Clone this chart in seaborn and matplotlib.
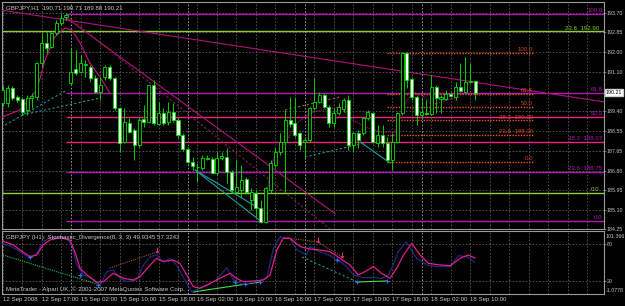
import numpy as np
import pandas as pd
import matplotlib
matplotlib.use("Agg")
import matplotlib.pyplot as plt
import matplotlib.transforms as mtrans
import seaborn as sns

# ---------------- data ----------------
opens = [189.76,189.76,190.42,190.03,189.94,189.46,189.98,190.03,191.51,192.39,
         192.21,192.83,193.26,193.53,190.64,191.25,191.12,191.43,191.34,190.86,
         190.24,190.90,191.34,190.86,189.54,188.06,188.89,188.58,187.93,189.06,
         188.93,190.55,188.84,189.33,188.93,189.37,189.02,188.36,187.75,187.18,
         186.96,186.92,187.31,187.31,186.70,187.36,187.40,186.75,185.87,185.96,
         186.44,185.52,185.83,185.17,184.56,185.96,187.05,187.62,188.06,189.02,
         188.89,188.45,188.06,188.15,189.54,189.81,190.11,189.59,188.89,189.33,
         189.50,189.89,187.93,188.45,188.45,189.11,189.33,188.01,188.36,188.01,
         187.27,188.06,189.33,191.95,190.81,190.03,189.24,189.33,189.28,190.46,
         189.94,189.94,190.16,190.03,190.46,190.24,190.68,190.71]
highs = [190.51,190.55,190.51,190.11,190.03,190.11,190.20,191.56,192.87,192.87,
         192.87,193.39,193.70,193.70,192.17,192.08,191.86,191.64,191.43,190.99,
         190.90,191.43,191.43,190.90,189.59,189.54,189.11,188.67,189.15,189.68,
         190.55,190.77,189.81,189.54,189.81,189.76,189.11,188.45,187.84,187.40,
         187.14,187.49,187.49,187.40,187.62,187.62,187.80,186.83,187.27,187.05,
         186.53,186.05,185.96,185.52,186.09,187.27,187.84,188.45,189.46,190.03,
         190.03,188.49,188.28,189.59,190.86,190.24,190.20,189.68,189.54,189.76,
         189.98,190.11,188.49,188.58,189.15,189.46,189.37,188.80,188.80,188.28,
         188.45,189.37,191.99,191.99,190.90,190.11,190.03,189.89,190.99,190.55,
         190.11,190.33,190.24,190.68,191.51,191.78,191.51,190.71]
lows = [189.63,189.59,189.89,189.81,189.24,189.24,189.54,189.89,191.34,191.95,
        192.17,192.74,193.18,193.39,190.55,190.99,191.08,190.90,190.68,190.20,
        189.89,190.77,190.77,189.46,187.62,188.01,188.45,187.27,187.84,188.71,
        188.89,188.80,188.80,188.80,188.80,188.93,188.23,187.66,187.14,186.83,
        186.31,186.83,187.27,186.70,186.61,187.27,186.26,185.83,185.83,185.65,
        185.83,185.08,184.78,184.51,184.51,185.83,186.96,187.49,185.87,188.71,
        188.28,187.71,187.40,188.06,189.46,189.76,189.54,188.71,188.71,189.24,
        189.37,187.71,187.62,187.80,188.36,189.02,188.01,187.84,187.84,187.18,
        186.83,188.01,189.24,190.42,189.89,188.80,189.15,189.24,189.24,189.33,
        189.33,189.89,190.03,189.89,190.24,190.24,190.64,189.88]
closes = [190.33,190.42,189.98,189.89,189.37,189.98,190.07,191.51,192.39,192.17,
          192.83,193.26,193.48,193.61,191.12,191.08,191.51,191.45,190.86,190.24,
          190.55,191.34,190.86,189.54,188.01,188.93,188.49,187.93,189.02,188.93,
          190.55,188.89,189.33,188.89,189.37,189.02,188.36,187.75,187.18,187.01,
          186.98,187.36,187.36,186.70,187.36,187.45,186.75,185.96,186.09,186.40,
          185.87,185.87,185.17,184.56,186.05,187.14,187.62,188.06,189.02,188.84,
          188.36,187.93,188.15,189.54,189.81,190.11,189.59,188.89,189.33,189.59,
          189.89,187.93,188.45,188.15,189.11,189.37,188.06,188.36,188.01,187.27,
          188.06,189.33,191.95,190.77,190.03,189.24,189.37,189.28,190.46,189.98,
          190.03,190.16,190.07,190.46,190.29,190.68,190.71,190.21]

time_labels = ["12 Sep 2008", "12 Sep 17:00", "15 Sep 02:00", "15 Sep 10:00", "15 Sep 18:00",
               "16 Sep 02:00", "16 Sep 10:00", "16 Sep 18:00", "17 Sep 02:00", "17 Sep 10:00",
               "17 Sep 18:00", "18 Sep 02:00", "18 Sep 10:00"]
day_separators = [14, 38, 62, 86]

price_ticks = [193.70, 192.85, 192.00, 191.10, 189.40, 188.55, 187.65, 186.80, 185.95, 185.10, 184.25]
price_tick_labels = ["193.70", "192.85", "192.00", "191.10", "189.40", "188.55", "187.65",
                     "186.80", "185.95", "185.10", "184.25"]
last_price = 190.21

# Fibonacci set 1 (magenta / pink)
fib1_levels = [193.66, 190.20, 189.15, 188.07, 186.75, 184.60]
fib1_names = ["100.0", "61.8", "50.0", "38.2  188.07", "23.6  186.75", "0.0"]
fib1_colors = ["#B418B4", "#B418B4", "#F0207E", "#F0207E", "#B418B4", "#B418B4"]
fib1_start = 13
# Fibonacci set 2 (green)
fib2_levels = [192.90, 185.83]
fib2_names = ["23.6  192.90", "0.0"]
# Fibonacci set 3 (orange, short)
fib3_levels = [191.95, 190.15, 189.58, 189.00, 188.36, 187.18]
fib3_names = ["100.0", "61.8", "50.0", "38.2  189.00", "23.6  188.36", "0.0"]
fib3_span = [78.9, 108.9]

# trend lines (bar, price)
trend_solid = [([-0.14, 123.47], [193.82, 189.81]),
               ([12.8, 68.3], [193.53, 184.91])]
trend_dashed = [([13.8, 67.2], [193.48, 184.25])]
teal_dashed = [([0.5, 13.2], [188.80, 190.33]),
               ([4.0, 20.0], [189.24, 189.98]),
               ([62.1, 74.4], [187.40, 188.01])]
teal_solid = [([39.5, 53.2], [186.83, 184.56]),
              ([39.5, 53.2], [186.83, 185.08]),
              ([73.4, 79.5], [188.06, 187.14])]
brown_dashed = [([58.0, 69.3], [189.46, 190.03])]
curve_left_x = [-0.5, 3.55, 7.0, 8.7, 10.7, 12.8, 14.2, 15.9, 17.9, 20.0, 22.0]
curve_left_y = [189.11, 189.46, 190.33, 191.64, 192.65, 193.04, 192.96, 192.39, 191.51, 190.90, 190.20]
curve_right_x = [54.3, 55.5, 58.4, 60.5, 63.1, 65.8, 69.3, 71.9, 74.4, 77.5, 80.6, 81.6, 83.0,
                 84.3, 86.1, 88.2, 91.2, 93.9]
curve_right_y = [185.96, 187.27, 188.15, 188.89, 189.33, 189.46, 189.59, 189.02, 188.71, 188.49,
                 188.49, 189.15, 189.89, 190.24, 190.11, 189.68, 189.89, 190.03]

# stochastic
sig_x = [-0.55, 2.2, 3.55, 5.6, 7.0, 8.3, 9.7, 11.8, 13.8, 14.8, 15.9, 17.3, 19.3, 20.7, 22.7,
         24.8, 26.8, 28.2, 30.3, 31.6, 33.0, 35.0, 36.4, 37.8, 39.1, 40.5, 42.6, 44.6, 46.7,
         48.0, 49.4, 51.5, 53.5, 54.9, 56.3, 57.6, 59.0, 61.1, 63.1, 65.1, 67.2, 69.3, 71.3,
         73.0, 74.4, 76.1, 77.8, 79.5, 80.9, 82.3, 84.0, 85.7, 87.4, 89.8, 91.9, 93.9, 95.6, 97.0]
sig_v = [86.7, 78.6, 70.5, 59.6, 62.4, 78.6, 86.7, 90.5, 86.7, 67.8, 40.7, 29.9, 17.9, 19.0, 32.6,
         24.4, 21.7, 27.1, 46.1, 56.9, 51.5, 54.2, 48.8, 29.9, 10.9, 8.2, 16.3, 24.4, 32.6,
         24.4, 19.0, 20.1, 21.7, 29.9, 70.5, 89.4, 89.4, 75.9, 72.0, 70.5, 67.8, 56.9, 46.1,
         29.9, 35.3, 43.4, 32.6, 24.4, 40.7, 62.4, 81.3, 62.4, 48.8, 46.1, 45.0, 56.9, 62.4, 57.3]
main_x = [-0.55, 1.5, 3.55, 5.6, 7.0, 8.3, 9.7, 11.8, 13.1, 14.2, 15.2, 16.6, 18.3, 20.0, 21.4,
          22.7, 24.1, 25.5, 27.5, 28.9, 30.3, 31.6, 33.0, 34.4, 35.7, 37.4, 38.8, 40.5, 42.2,
          43.9, 46.0, 47.4, 49.4, 52.1, 54.2, 55.6, 57.0, 59.0, 60.4, 62.4, 63.1, 65.1, 67.2,
          69.3, 70.6, 72.0, 74.0, 76.1, 77.8, 79.2, 80.2, 81.2, 82.9, 85.0, 87.1, 89.1, 91.9,
          93.6, 95.3, 97.0]
main_v = [81.3, 77.5, 67.8, 56.9, 65.1, 84.0, 90.5, 92.2, 89.4, 78.6, 46.1, 29.9, 24.4, 12.5, 35.3,
          38.0, 24.4, 19.0, 21.7, 46.1, 59.6, 62.4, 51.5, 56.9, 46.1, 21.7, 2.7, 8.2, 13.6,
          21.7, 41.8, 21.7, 14.7, 19.0, 24.4, 73.2, 92.2, 89.4, 70.5, 62.4, 75.9, 67.8, 61.3,
          51.5, 43.4, 29.9, 25.5, 25.5, 24.4, 29.9, 46.1, 67.8, 84.0, 56.9, 46.1, 43.4, 43.4,
          61.3, 59.6, 49.9]
div_green_dotted = [([0.06, 20.0], [62.3, 13.6])]
div_green_solid = [([39.1, 52.8], [2.2, 18.4]), ([72.8, 78.9], [18.4, 20.1])]
div_brown_dotted = [([22.0, 31.7], [41.2, 67.2]), ([58.4, 64.7, 69.7], [90.0, 83.5, 59.1])]
div_teal_dashed = [([61.5, 72.8], [59.1, 18.4])]
cross_x = [5.6, 15.9, 19.6, 47.7, 49.8, 52.8, 68.6, 72.8, 78.9]
cross_v = [59.1, 29.8, 13.6, 18.4, 15.2, 18.4, 54.2, 18.4, 20.1]
arrow_x = [31.7, 64.7, 69.7]
arrow_v = [71.0, 87.0, 63.0]

# ---------------- style ----------------
sns.set_theme(style="dark", rc={"axes.facecolor": "black", "figure.facecolor": "black"})
plt.rcParams["font.family"] = ["Liberation Sans", "DejaVu Sans"]

W, H = 625, 306
fig = plt.figure(figsize=(W / 100, H / 100), dpi=100, facecolor="black")
ax = fig.add_axes([2 / W, 1 - 229 / H, 602 / W, 227 / H], facecolor="black")
axs = fig.add_axes([2 / W, 1 - 294 / H, 602 / W, 63 / H], facecolor="black")

TXT = "#C8C8C8"
FS = 4.4
FSR = 3.8
GRID = "#5A5A5A"
XL = (-0.14, 123.47)

for a in (ax, axs):
    a.set_xlim(*XL)
    for s in a.spines.values():
        s.set_color("#9A9A9A")
        s.set_linewidth(0.8)
    a.set_xticks(np.arange(0, 124, 4), minor=True)
    a.grid(True, which="both", color=GRID, linestyle=(0, (2, 2)), linewidth=0.6)
    a.set_axisbelow(True)
    for d in day_separators:
        a.axvline(d, color="#A8A8A8", linestyle=(0, (2, 2)), linewidth=0.6, zorder=1)

# main panel
ax.set_ylim(184.25, 194.18)
ax.set_xticks(np.arange(0, 124, 8))
ax.tick_params(axis="x", which="both", length=0, labelbottom=False)
ax.set_yticks(price_ticks)
ax.set_yticklabels(price_tick_labels)
ax.yaxis.tick_right()
ax.tick_params(axis="y", length=1.5, width=0.5, color="#A0A0A0", labelsize=FSR, labelcolor=TXT, pad=0.6)

idx = np.arange(len(opens))
# fib lines
for lv, nm, c in zip(fib1_levels, fib1_names, fib1_colors):
    ax.hlines(lv, fib1_start, XL[1], color=c, linewidth=1.0, zorder=2)
    ax.text(XL[1] - 0.3, lv + 0.03, nm, color="#B418B4", fontsize=FS, ha="right", va="bottom", zorder=7)
for lv, nm in zip(fib2_levels, fib2_names):
    ax.hlines(lv, XL[0], XL[1], color="#8FD030", linewidth=1.0, zorder=2)
    ax.text(XL[1] - 0.9, lv + 0.03, nm, color="#8FD030", fontsize=FS, ha="right", va="bottom", zorder=7)
for lv, nm in zip(fib3_levels, fib3_names):
    ax.hlines(lv, fib3_span[0], fib3_span[1], color="#E8502A", linewidth=1.0,
              linestyles=(0, (1, 1)), zorder=2)
    ax.text(fib3_span[1], lv + 0.03, nm, color="#D8402A", fontsize=FS, ha="right", va="bottom", zorder=7)

for xs, ys in trend_solid:
    ax.plot(xs, ys, color="#B0127A", linewidth=0.8, zorder=3)
for xs, ys in trend_dashed:
    ax.plot(xs, ys, color="#8A1A55", linewidth=0.8, linestyle=(0, (2, 2)), zorder=3)
for xs, ys in teal_dashed:
    ax.plot(xs, ys, color="#1A9A9A", linewidth=0.8, linestyle=(0, (2, 2)), zorder=3)
for xs, ys in teal_solid:
    ax.plot(xs, ys, color="#1AA0A0", linewidth=0.8, zorder=3)
for xs, ys in brown_dashed:
    ax.plot(xs, ys, color="#9A6030", linewidth=0.8, linestyle=(0, (2, 2)), zorder=3)
ax.plot(curve_left_x, curve_left_y, color="#C0147E", linewidth=0.8, zorder=3)
ax.plot(curve_right_x, curve_right_y, color="#C0147E", linewidth=0.8, linestyle=(0, (1, 1)), zorder=3)

# candles
o = np.array(opens); c = np.array(closes)
bull = c >= o
ax.vlines(idx, lows, highs, color="#00D000", linewidth=0.7, zorder=5)
bottoms = np.minimum(o, c)
heights = np.maximum(np.abs(c - o), 0.015)
ax.bar(idx, heights, bottom=bottoms, width=0.62,
       color=np.where(bull, "black", "white"), edgecolor="#00E000", linewidth=0.6, zorder=6)

ax.text(0.006, 0.985, "GBPJPY,H1  190.71 190.71 189.88 190.21", transform=ax.transAxes,
        color=TXT, fontsize=FS, ha="left", va="top", zorder=8)
tr = mtrans.blended_transform_factory(fig.transFigure, ax.transData)
ax.text(606 / W, last_price, "190.21", transform=tr, color="black", fontsize=FSR, ha="left",
        va="center", bbox=dict(facecolor="white", edgecolor="#D0D0D0", pad=0.6), clip_on=False, zorder=9)

# stochastic panel
axs.set_ylim(-1.0778, 101.366)
axs.set_xticks(np.arange(0, 97, 8))
axs.set_xticklabels(time_labels)
for lbl in axs.get_xticklabels():
    lbl.set_horizontalalignment("left")
axs.tick_params(axis="x", which="major", length=2, width=0.5, color="#A0A0A0", labelsize=FS,
                labelcolor=TXT, pad=0.5)
axs.tick_params(axis="x", which="minor", length=0)
axs.set_yticks([20, 80])
axs.set_yticklabels(["20", "80"])
axs.yaxis.tick_right()
axs.tick_params(axis="y", length=1.5, width=0.5, color="#A0A0A0", labelsize=FSR, labelcolor=TXT, pad=0.6)

for xs, ys in div_green_dotted:
    axs.plot(xs, ys, color="#20C050", linewidth=0.8, linestyle=(0, (1, 1)), zorder=3)
for xs, ys in div_green_solid:
    axs.plot(xs, ys, color="#40E040", linewidth=0.8, zorder=3)
for xs, ys in div_brown_dotted:
    axs.plot(xs, ys, color="#A05A30", linewidth=0.8, linestyle=(0, (1, 1)), zorder=3)
for xs, ys in div_teal_dashed:
    axs.plot(xs, ys, color="#1A9A9A", linewidth=0.8, linestyle=(0, (2, 2)), zorder=3)

stoch = pd.DataFrame({"x": main_x, "v": main_v})
sig = pd.DataFrame({"x": sig_x, "v": sig_v})
sns.lineplot(data=stoch, x="x", y="v", ax=axs, color="#1E2A7A", linewidth=0.9, sort=False,
             estimator=None, zorder=4)
sns.lineplot(data=sig, x="x", y="v", ax=axs, color="#E01E8C", linewidth=0.9, sort=False,
             estimator=None, zorder=5)
axs.scatter(cross_x, cross_v, marker="+", s=10, color="#3070FF", linewidths=0.8, zorder=6)
axs.scatter(arrow_x, arrow_v, marker=r"$\downarrow$", s=14, color="#FF2A90", linewidths=0.3, zorder=6)
axs.set_xlabel(""); axs.set_ylabel("")

axs.text(0.006, 0.93, "GBPJPY (H1): Stochastic_Divergence(8, 3, 3) 49.9345 57.3242",
         transform=axs.transAxes, color=TXT, fontsize=FS, ha="left", va="top", zorder=8)
axs.text(0.006, 0.03, "MetaTrader - Alpari UK, \u00a9 2001-2007 MetaQuotes Software Corp.",
         transform=axs.transAxes, color=TXT, fontsize=FS, ha="left", va="bottom", zorder=8)
fig.text(606 / W, 1 - 236 / H, "101.366", color=TXT, fontsize=FSR, ha="left", va="center")
fig.text(606 / W, 1 - 291 / H, "-1.0778", color=TXT, fontsize=FSR, ha="left", va="center")

fig.savefig("out.png", dpi=100, facecolor="black")
